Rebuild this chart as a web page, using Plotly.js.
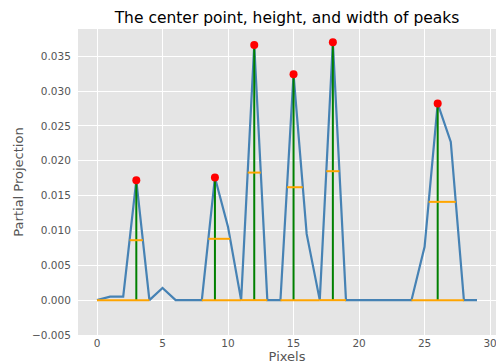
<!DOCTYPE html>
<html>
<head>
<meta charset="utf-8">
<script src="https://cdn.plot.ly/plotly-3.0.1.min.js"></script>
<style>html,body{margin:0;padding:0;background:#fff;}#chart{width:496px;height:364px;}</style>
</head>
<body>
<div id="chart"></div>
<script>
// Signal (partial projection per pixel)
const pixels = [0,1,2,3,4,5,6,7,8,9,10,11,12,13,14,15,16,17,18,19,20,21,22,23,24,25,26,27,28,29];
const projection = [0,0.0005,0.0005,0.0172,0,0.00175,0,0,0,0.0176,0.0105,0,0.0366,0,0,0.0324,0.0095,0,0.0370,0,0,0,0,0,0,0.00765,0.0282,0.0227,0,0];

// Peaks
const peakX = [3,9,12,15,18,26];
const peakY = [0.0172,0.0176,0.0366,0.0324,0.0370,0.0282];

// Half-height widths
const halfY = [0.0086,0.0088,0.0183,0.0162,0.0185,0.0141];
const halfLeft = [2.49,8.5,11.5,14.5,17.5,25.31];
const halfRight = [3.5,10.16,12.5,15.7,18.5,27.38];

// Full widths (at base)
const fullY = [0,0,0,0,0,0];
const fullLeft = [0,8,11,14,17,24];
const fullRight = [4,11,13,17,19,28];

const xTicks = [0,5,10,15,20,25,30];
const yTicks = [-0.005,0,0.005,0.01,0.015,0.02,0.025,0.03,0.035];

function segs(x0s, x1s, y0s, y1s) {
  const xs = [], ys = [];
  for (let i = 0; i < x0s.length; i++) {
    xs.push(x0s[i], x1s[i], null);
    ys.push(y0s[i], y1s[i], null);
  }
  return {xs, ys};
}

const vl = segs(peakX, peakX, peakX.map(() => 0), peakY);
const hh = segs(halfLeft, halfRight, halfY, halfY);
const hf = segs(fullLeft, fullRight, fullY, fullY);

const traces = [
  {x: pixels, y: projection, mode: 'lines', line: {color: '#4682B4', width: 2.2}},
  {x: vl.xs, y: vl.ys, mode: 'lines', line: {color: '#008000', width: 2}, connectgaps: false},
  {x: hh.xs, y: hh.ys, mode: 'lines', line: {color: '#FFA500', width: 2}, connectgaps: false},
  {x: hf.xs, y: hf.ys, mode: 'lines', line: {color: '#FFA500', width: 2}, connectgaps: false},
  {x: peakX, y: peakY, mode: 'markers', marker: {color: '#FF0000', size: 8}}
];

const axisFont = {family: 'DejaVu Sans', size: 13, color: '#555555'};
const tickFont = {family: 'DejaVu Sans', size: 10.5, color: '#555555'};

const layout = {
  width: 496, height: 364,
  margin: {l: 78, r: 0, t: 29, b: 29, pad: 0},
  paper_bgcolor: '#ffffff',
  plot_bgcolor: '#E5E5E5',
  showlegend: false,
  title: {
    text: 'The center point, height, and width of peaks',
    font: {family: 'DejaVu Sans', size: 15.5, color: '#000000'},
    x: 0.5, xref: 'paper', xanchor: 'center',
    y: 1 - 18/364, yref: 'container', yanchor: 'middle'
  },
  xaxis: {
    range: [-1.45, 30.45],
    tickvals: xTicks,
    ticktext: xTicks.map(String),
    ticklabeloverflow: 'allow',
    showgrid: true, gridcolor: '#ffffff', gridwidth: 1,
    zeroline: false, showline: false,
    ticks: '', ticklen: 0,
    tickfont: tickFont,
    title: {text: 'Pixels', font: axisFont, standoff: 10}
  },
  yaxis: {
    range: [-0.005, 0.0389],
    tickvals: yTicks,
    tickformat: '.3f',
    showgrid: true, gridcolor: '#ffffff', gridwidth: 1,
    zeroline: false, showline: false,
    ticks: 'outside', ticklen: 4, tickcolor: 'rgba(0,0,0,0)',
    tickfont: tickFont,
    title: {text: 'Partial Projection', font: axisFont, standoff: 5}
  }
};

Plotly.newPlot('chart', traces, layout, {displayModeBar: false, staticPlot: true});
</script>
</body>
</html>
